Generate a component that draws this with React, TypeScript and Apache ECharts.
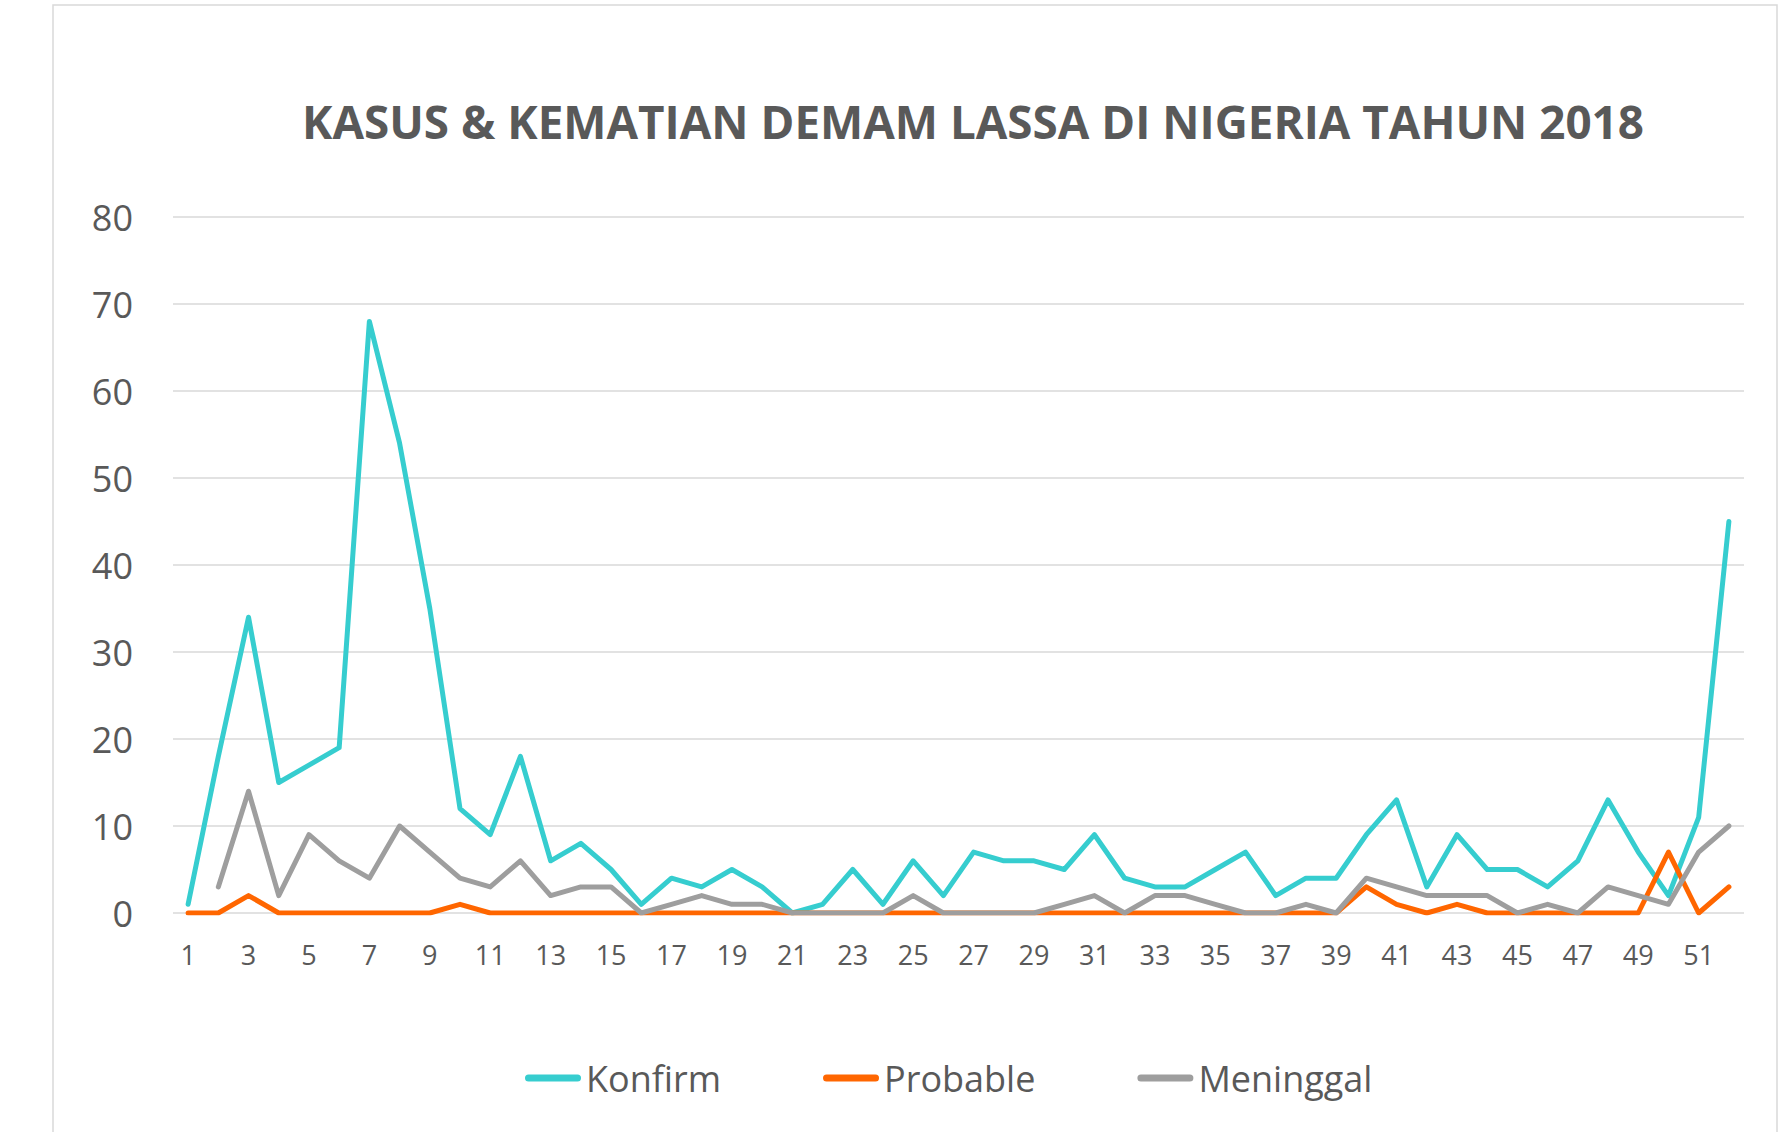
import React, { useEffect, useRef } from "react";
import * as echarts from "echarts";

const weeks: string[] = Array.from({ length: 52 }, (_, i) => String(i + 1));

const konfirm: number[] = [
  1, 18, 34, 15, 17, 19, 68, 54, 35, 12,
  9, 18, 6, 8, 5, 1, 4, 3, 5, 3,
  0, 1, 5, 1, 6, 2, 7, 6, 6, 5,
  9, 4, 3, 3, 5, 7, 2, 4, 4, 9,
  13, 3, 9, 5, 5, 3, 6, 13, 7, 2,
  11, 45,
];

const probable: number[] = [
  0, 0, 2, 0, 0, 0, 0, 0, 0, 1,
  0, 0, 0, 0, 0, 0, 0, 0, 0, 0,
  0, 0, 0, 0, 0, 0, 0, 0, 0, 0,
  0, 0, 0, 0, 0, 0, 0, 0, 0, 3,
  1, 0, 1, 0, 0, 0, 0, 0, 0, 7,
  0, 3,
];

const meninggal: (number | null)[] = [
  null, 3, 14, 2, 9, 6, 4, 10, 7, 4,
  3, 6, 2, 3, 3, 0, 1, 2, 1, 1,
  0, 0, 0, 0, 2, 0, 0, 0, 0, 1,
  2, 0, 2, 2, 1, 0, 0, 1, 0, 4,
  3, 2, 2, 2, 0, 1, 0, 3, 2, 1,
  7, 10,
];

const titleText = "KASUS & KEMATIAN DEMAM LASSA DI NIGERIA TAHUN 2018";
const seriesNames = ["Konfirm", "Probable", "Meninggal"];
const colors = ["#36CDCF", "#FF6600", "#9E9E9E"];

export default function App() {
  const ref = useRef<HTMLDivElement>(null);
  useEffect(() => {
    document.body.style.margin = "0";
    if (!ref.current) return;
    const chart = echarts.init(ref.current, undefined, { renderer: "svg" });
    const font = "'Open Sans', 'Noto Sans', sans-serif";
    const mk = (name: string, data: (number | null)[], color: string) => ({
      name,
      type: "line",
      data,
      symbol: "none",
      showSymbol: false,
      color,
      lineStyle: { width: 5, color, cap: "round", join: "round" },
    });
    chart.setOption({
      animation: false,
      backgroundColor: "#ffffff",
      textStyle: { fontFamily: font },
      graphic: [
        {
          type: "rect",
          shape: { x: 53, y: 5, width: 1724, height: 1140 },
          style: { fill: "none", stroke: "#D9D9D9", lineWidth: 1.5 },
          silent: true,
          z: -10,
        },
      ],
      title: {
        text: titleText,
        left: 968,
        textAlign: "center",
        top: 93,
        textStyle: { fontFamily: font, fontSize: 45.8, fontWeight: "bold", color: "#595959" },
      },
      legend: {
        data: seriesNames,
        left: 520,
        top: 1055,
        itemWidth: 56,
        itemHeight: 7,
        itemGap: 102,
        icon: "path://M3.5,0 L52.5,0 A3.5,3.5 0 0 1 52.5,7 L3.5,7 A3.5,3.5 0 0 1 3.5,0 Z",
        textStyle: { fontFamily: font, fontSize: 36, color: "#595959" },
      },
      grid: { left: 173, right: 36, top: 217, bottom: 219, containLabel: false },
      xAxis: {
        type: "category",
        data: weeks,
        boundaryGap: true,
        axisLine: { show: false },
        axisTick: { show: false },
        axisLabel: { interval: 1, fontSize: 27, color: "#595959", margin: 28, fontFamily: font },
      },
      yAxis: {
        type: "value",
        min: 0,
        max: 80,
        interval: 10,
        axisLine: { show: false },
        axisTick: { show: false },
        splitLine: { lineStyle: { color: "#D9D9D9", width: 1.5 } },
        axisLabel: { fontSize: 36, color: "#595959", margin: 40, fontFamily: font },
      },
      series: [
        mk(seriesNames[0], konfirm, colors[0]),
        mk(seriesNames[1], probable, colors[1]),
        mk(seriesNames[2], meninggal, colors[2]),
      ],
    });
    return () => chart.dispose();
  }, []);
  return <div ref={ref} style={{ width: 1780, height: 1132 }} />;
}
